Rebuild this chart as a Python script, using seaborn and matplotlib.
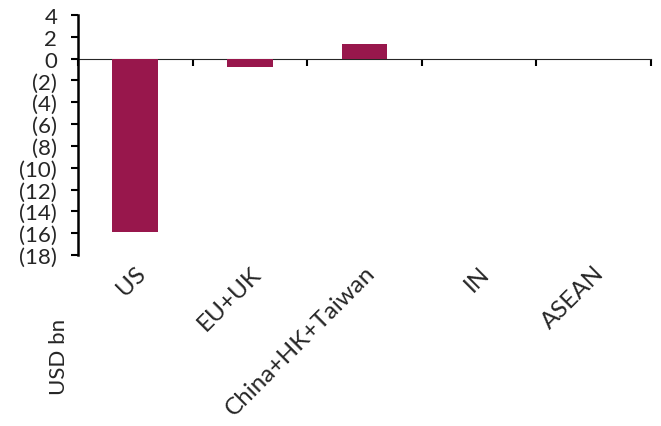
import pandas as pd
import matplotlib
matplotlib.use("Agg")
import matplotlib.pyplot as plt
import seaborn as sns
from matplotlib.ticker import FuncFormatter, MultipleLocator

regions = ['US', 'EU+UK', 'China+HK+Taiwan', 'IN', 'ASEAN']
values = [-15.9, -0.75, 1.3, 0.0, 0.0]
y_min, y_max = -18, 4

df = pd.DataFrame({'Region': regions, 'Value': values})

sns.set_style('white')
plt.rcParams['font.family'] = ['Lato', 'DejaVu Sans']

fig = plt.figure(figsize=(6.61, 4.27), dpi=100)
ax = fig.add_axes([0.118, 0.4005, 0.867, 0.562])

sns.barplot(data=df, x='Region', y='Value', color='#98174C',
            width=0.4, saturation=1, linewidth=0, ax=ax)

ax.set_ylim(y_min, y_max)
ax.set_xlim(-0.5, len(regions) - 0.5)
ax.yaxis.set_major_locator(MultipleLocator(2))
ax.yaxis.set_major_formatter(FuncFormatter(
    lambda v, p: f"({abs(v):.0f})" if v < 0 else f"{v:.0f}"))
ax.tick_params(axis='y', direction='out', length=5, width=1.5,
               color='black', labelsize=16, pad=10, left=True)

for s in ['top', 'right', 'bottom']:
    ax.spines[s].set_visible(False)
ax.spines['left'].set_linewidth(1.8)
ax.spines['left'].set_color('black')

# category labels along the bottom, no ticks there
ax.tick_params(axis='x', length=0, labelsize=17.5, pad=5)
plt.setp(ax.get_xticklabels(), rotation=45, ha='right',
         rotation_mode='anchor')
ax.set_xlabel('')

# zero line with ticks between categories
zero_pos = (0 - y_min) / (y_max - y_min)
sec = ax.secondary_xaxis(zero_pos)
sec.set_xticks([i - 0.5 for i in range(len(regions) + 1)])
sec.set_xticklabels([])
sec.tick_params(direction='in', length=5, width=1.5, color='black')
sec.spines['bottom'].set_linewidth(1.8)
sec.spines['bottom'].set_color('black')

ax.set_ylabel('USD bn', fontsize=16)
ax.yaxis.set_label_coords(-0.015, -0.42)

fig.savefig('out.png', dpi=100)
